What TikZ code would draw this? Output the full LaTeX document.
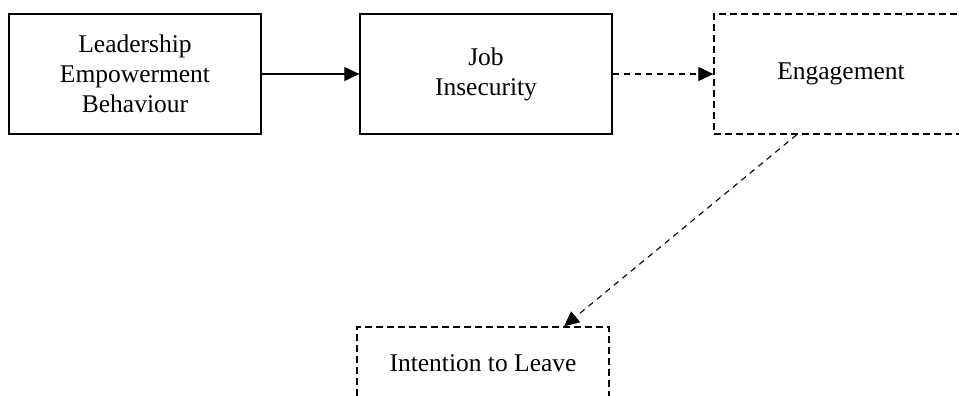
\documentclass[tikz,border=0pt]{standalone}
\usepackage{fontspec}
\setmainfont{Liberation Serif}
\usetikzlibrary{arrows.meta,calc}
\begin{document}
\begin{tikzpicture}[x=1pt,y=-1pt,
  box/.style={draw, line width=1.3pt, rectangle, minimum width=252pt, minimum height=120pt,
    align=center, font=\fontsize{25.5}{30}\selectfont, inner sep=0pt},
  dbox/.style={box, dash pattern=on 7pt off 4pt},
  link/.style={line width=1.1pt, -{Triangle[length=15pt,width=14pt]}},
  dlink/.style={link, dash pattern=on 6pt off 5pt}]
  \useasboundingbox (0,0) rectangle (959,396);
  \clip (0,0) rectangle (959,396);

  \node[box] (leb) at (135,74) {Leadership\\Empowerment\\Behaviour};
  \node[box] (ji) at (486,74) {Job\\Insecurity};
  \node[dbox, minimum width=254pt] (eng) at (841,74) {Engagement};
  \node[dbox, minimum height=72pt] (itl) at (483,363) {Intention to Leave};

  \coordinate (engout) at ($(eng.south west)!0.327!(eng.south east)$);
  \coordinate (itlin) at ($(itl.north west)!0.82!(itl.north east)$);

  \draw[link] (leb.east) -- (ji.west);
  \draw[dlink] (ji.east) -- (eng.west);
  \draw[dlink] (engout) -- (itlin);
\end{tikzpicture}
\end{document}
